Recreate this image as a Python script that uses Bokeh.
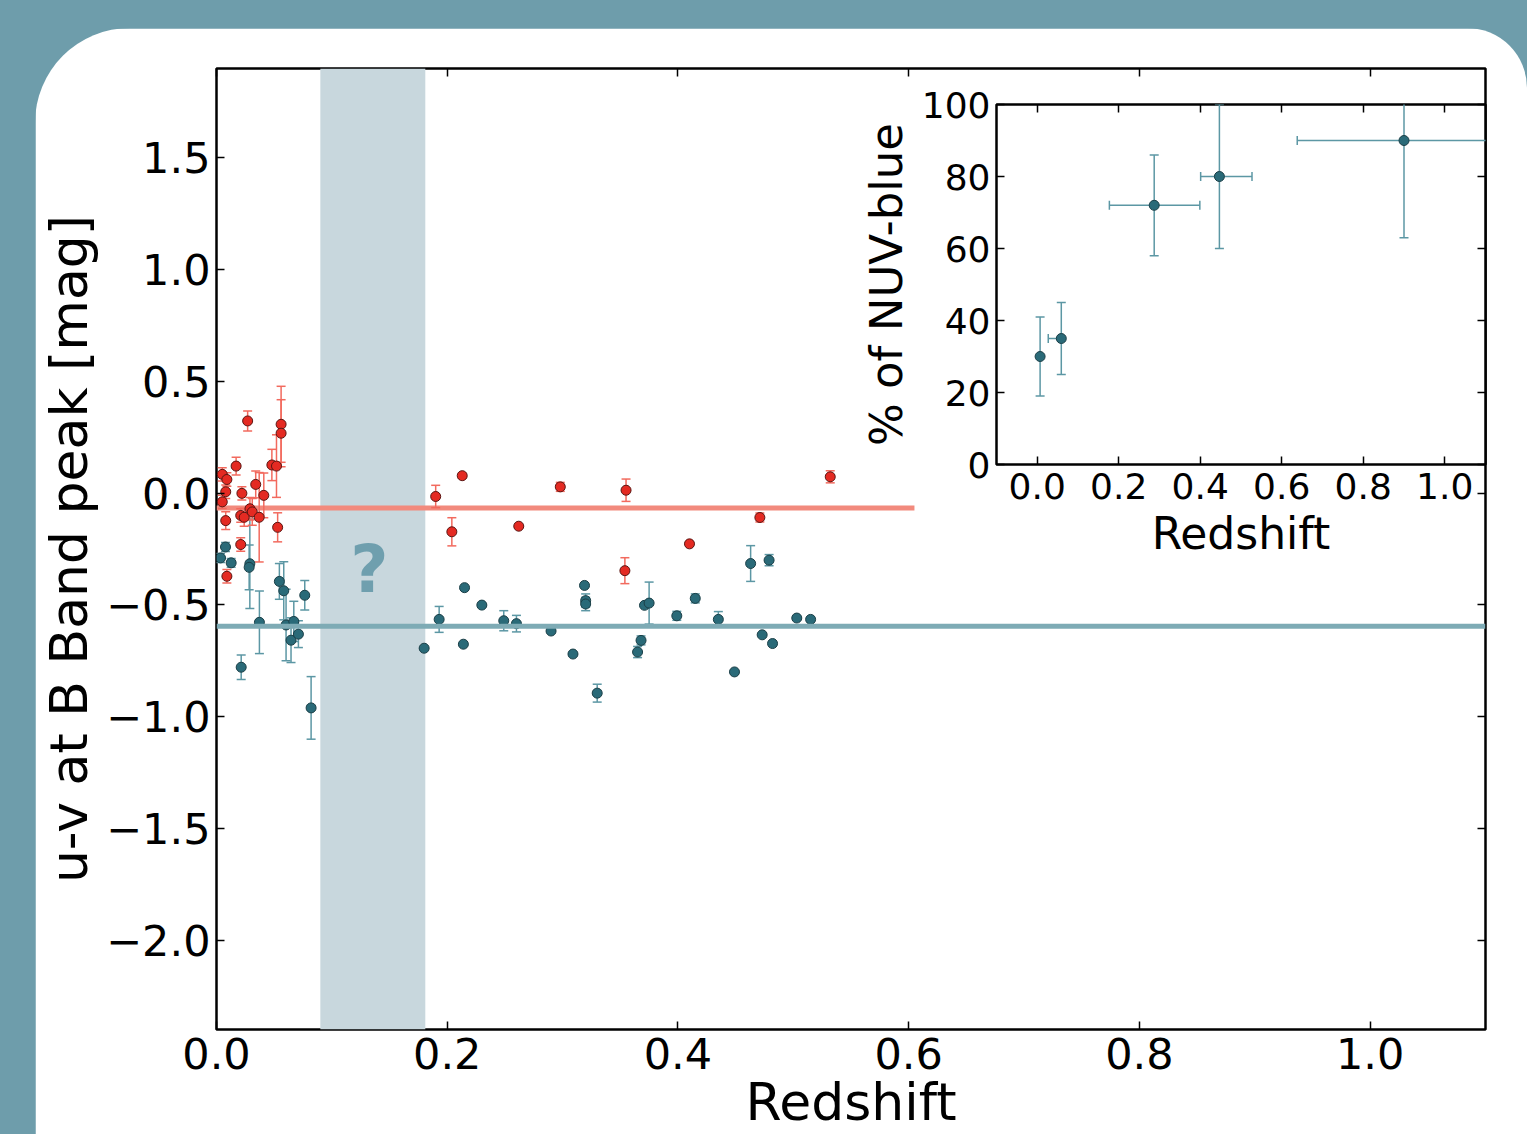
import numpy as np
from bokeh.plotting import figure
from bokeh.models import LinearAxis, FixedTicker, Range1d, Span, Label, BoxAnnotation
from bokeh.layouts import column
from bokeh.embed import file_html
from bokeh.resources import INLINE

# ---------------- data ----------------
# NUV-red supernovae: redshift, u-v at B peak, error
red_z = [0.005, 0.009, 0.017, 0.008, 0.022, 0.034, 0.005, 0.008, 0.021, 0.024, 0.029,
         0.031, 0.037, 0.041, 0.048, 0.052, 0.027, 0.056, 0.056, 0.053, 0.021, 0.009,
         0.190, 0.213, 0.204, 0.262, 0.298, 0.355, 0.354, 0.410, 0.471, 0.532]
red_uv = [0.084, 0.061, 0.121, 0.006, -0.001, 0.039, -0.039, -0.123, -0.100, -0.108, -0.070,
          -0.084, -0.108, -0.010, 0.126, 0.121, 0.323, 0.308, 0.268, -0.153, -0.230, -0.372,
          -0.015, 0.078, -0.173, -0.148, 0.028, 0.013, -0.347, -0.227, -0.109, 0.073]
red_err = [0.03, 0.03, 0.04, 0.03, 0.03, 0.06, 0.03, 0.04, 0.03, 0.04, 0.05,
           0.06, 0.20, 0.10, 0.07, 0.14, 0.045, 0.17, 0.15, 0.065, 0.03, 0.03,
           0.05, 0.01, 0.063, 0.0, 0.02, 0.05, 0.058, 0.0, 0.02, 0.027]

# NUV-blue supernovae
teal_z = [0.0035, 0.0078, 0.0127, 0.0289, 0.0283, 0.0545, 0.0583, 0.0765, 0.0372, 0.0603,
          0.067, 0.0646, 0.071, 0.0214, 0.082,
          0.180, 0.193, 0.215, 0.214, 0.230, 0.249, 0.260, 0.290, 0.309, 0.319, 0.320,
          0.320, 0.330, 0.365, 0.368, 0.371, 0.375,
          0.399, 0.415, 0.435, 0.449, 0.463, 0.473, 0.479, 0.482, 0.503, 0.515]
teal_uv = [-0.290, -0.241, -0.312, -0.316, -0.332, -0.395, -0.437, -0.457, -0.578, -0.590,
           -0.574, -0.658, -0.631, -0.779, -0.961,
           -0.694, -0.565, -0.423, -0.676, -0.501, -0.571, -0.584, -0.617, -0.720, -0.413,
           -0.481, -0.496, -0.895, -0.711, -0.659, -0.502, -0.492,
           -0.549, -0.471, -0.565, -0.800, -0.315, -0.634, -0.300, -0.673, -0.559, -0.565]
teal_err = [0.02, 0.02, 0.02, 0.20, 0.10, 0.08, 0.13, 0.066, 0.14, 0.16,
            0.09, 0.10, 0.06, 0.055, 0.14,
            0.0, 0.058, 0.0, 0.0, 0.0, 0.045, 0.037, 0.0, 0.0, 0.0, 0.03,
            0.03, 0.04, 0.025, 0.02, 0.0, 0.094,
            0.02, 0.02, 0.035, 0.0, 0.08, 0.0, 0.025, 0.0, 0.0, 0.0]

red_mean = -0.066
red_mean_extent = [0.0, 0.605]
teal_mean = -0.596
gap_z = [0.09, 0.181]
gap_mark = "?"
gap_mark_pos = [0.1325, -0.341]

x_ticks = [0.0, 0.2, 0.4, 0.6, 0.8, 1.0]
x_tick_labels = ["0.0", "0.2", "0.4", "0.6", "0.8", "1.0"]
y_ticks = [-2.0, -1.5, -1.0, -0.5, 0.0, 0.5, 1.0, 1.5]
y_tick_labels = ["\u22122.0", "\u22121.5", "\u22121.0", "\u22120.5", "0.0", "0.5", "1.0", "1.5"]

# inset: fraction of NUV-blue per redshift bin
ins_z = [0.007, 0.059, 0.287, 0.447, 0.900]
ins_pct = [30, 35, 72, 80, 90]
ins_zlo = [0.007, 0.027, 0.177, 0.401, 0.638]
ins_zhi = [0.007, 0.062, 0.399, 0.527, 1.160]
ins_pct_err = [11, 10, 14, 20, 27]
ins_x_ticks = [0.0, 0.2, 0.4, 0.6, 0.8, 1.0]
ins_x_tick_labels = ["0.0", "0.2", "0.4", "0.6", "0.8", "1.0"]
ins_y_ticks = [0, 20, 40, 60, 80, 100]
ins_y_tick_labels = ["0", "20", "40", "60", "80", "100"]

# ---------------- style ----------------
FONT = "DejaVu Sans"
BG = "#6e9dab"
RED = "#e42a22"
RED_ERR = "#f26a5e"
RED_LINE = "#f28a7d"
TEAL = "#2a6a78"
TEAL_ERR = "#5c97a4"
TEAL_LINE = "#7eabb5"
BAND = "#c8d7dd"


def style_axis(ax, ticks, labels, size, show_labels=True):
    ax.ticker = FixedTicker(ticks=ticks)
    ax.major_label_overrides = {t: l for t, l in zip(ticks, labels)}
    ax.axis_line_color = None
    ax.major_tick_in = 8
    ax.major_tick_out = 0
    ax.minor_tick_line_color = None
    ax.major_tick_line_color = "black"
    ax.major_tick_line_width = 1.5
    ax.major_label_text_font = FONT
    ax.major_label_text_color = "black"
    if show_labels:
        ax.major_label_text_font_size = size
    else:
        ax.major_label_text_font_size = "1px"
        ax.major_label_text_alpha = 0
        ax.major_label_standoff = 0


def errorbars(fig, x, y, err, color, cap=9):
    x = np.asarray(x, float)
    y = np.asarray(y, float)
    err = np.asarray(err, float)
    fig.segment(x, y - err, x, y + err, line_color=color, line_width=1.5)
    fig.scatter(np.concatenate([x, x]), np.concatenate([y - err, y + err]), marker="dash",
                size=cap, line_color=color, line_width=1.5)


# ---------------- main figure ----------------
p = figure(width=1492, height=1106, x_range=Range1d(0, 1.1), y_range=Range1d(-2.4, 1.9),
           output_backend="svg", toolbar_location=None,
           min_border_left=181, min_border_right=42, min_border_top=40, min_border_bottom=105,
           background_fill_color="white", border_fill_color="white",
           outline_line_color="black", outline_line_width=2.5)
p.frame_align = False
p.grid.visible = False
p.margin = (28, 0, 0, 35)
p.styles = {"border-top-left-radius": "95px", "border-top-right-radius": "60px",
            "overflow": "hidden"}

style_axis(p.xaxis[0], x_ticks, x_tick_labels, "43px")
style_axis(p.yaxis[0], y_ticks, y_tick_labels, "43px")
p.xaxis[0].major_label_standoff = 8
p.yaxis[0].major_label_standoff = 6
p.xaxis[0].axis_label = "Redshift"
p.yaxis[0].axis_label = "u-v at B Band peak [mag]"
for ax in (p.xaxis[0], p.yaxis[0]):
    ax.axis_label_text_font = FONT
    ax.axis_label_text_font_style = "normal"
    ax.axis_label_text_color = "black"
    ax.axis_label_text_font_size = "52px"
p.xaxis[0].axis_label_standoff = 0
p.yaxis[0].axis_label_standoff = 4

top_ax = LinearAxis()
style_axis(top_ax, x_ticks, x_tick_labels, "1px", show_labels=False)
p.add_layout(top_ax, "above")
right_ax = LinearAxis()
style_axis(right_ax, y_ticks, y_tick_labels, "1px", show_labels=False)
p.add_layout(right_ax, "right")

band = BoxAnnotation(left=gap_z[0], right=gap_z[1], fill_color=BAND, fill_alpha=1.0,
                     line_color=None, level="underlay")
p.add_layout(band)
p.add_layout(Label(x=gap_mark_pos[0], y=gap_mark_pos[1], text=gap_mark, text_align="center",
                   text_baseline="middle", text_font=FONT, text_font_style="bold",
                   text_font_size="66px", text_color="#6f9fae"))

p.line(red_mean_extent, [red_mean, red_mean], line_color=RED_LINE, line_width=5)
p.add_layout(Span(location=teal_mean, dimension="width", line_color=TEAL_LINE, line_width=5))

errorbars(p, teal_z, teal_uv, teal_err, TEAL_ERR)
errorbars(p, red_z, red_uv, red_err, RED_ERR)
p.scatter(teal_z, teal_uv, size=10, fill_color=TEAL, line_color="#1b3f47", line_width=1)
p.scatter(red_z, red_uv, size=10, fill_color=RED, line_color="#5a1512", line_width=1)

# ---------------- inset ----------------
ins = figure(width=633, height=490, x_range=Range1d(-0.1, 1.1), y_range=Range1d(0, 100),
             output_backend="svg", toolbar_location=None,
             min_border_left=138, min_border_right=4, min_border_top=20, min_border_bottom=110,
             background_fill_color="white", border_fill_alpha=0, border_fill_color=None,
             outline_line_color="black", outline_line_width=2.5)
ins.frame_align = False
ins.grid.visible = False
style_axis(ins.xaxis[0], ins_x_ticks, ins_x_tick_labels, "36px")
style_axis(ins.yaxis[0], ins_y_ticks, ins_y_tick_labels, "36px")
ins.xaxis[0].major_label_standoff = 8
ins.yaxis[0].major_label_standoff = 6
ins.xaxis[0].axis_label = "Redshift"
ins.yaxis[0].axis_label = "% of NUV-blue"
for ax in (ins.xaxis[0], ins.yaxis[0]):
    ax.axis_label_text_font = FONT
    ax.axis_label_text_font_style = "normal"
    ax.axis_label_text_color = "black"
ins.xaxis[0].axis_label_text_font_size = "44px"
ins.yaxis[0].axis_label_text_font_size = "45px"
ins.xaxis[0].axis_label_standoff = 6
ins.yaxis[0].axis_label_standoff = 6
ins_top = LinearAxis()
style_axis(ins_top, ins_x_ticks, ins_x_tick_labels, "1px", show_labels=False)
ins.add_layout(ins_top, "above")
ins_right = LinearAxis()
style_axis(ins_right, ins_y_ticks, ins_y_tick_labels, "1px", show_labels=False)
ins.add_layout(ins_right, "right")

iz = np.asarray(ins_z, float)
ip = np.asarray(ins_pct, float)
ie = np.asarray(ins_pct_err, float)
ilo = np.asarray(ins_zlo, float)
ihi = np.asarray(ins_zhi, float)
ins.segment(iz, ip - ie, iz, ip + ie, line_color=TEAL_ERR, line_width=1.5)
ins.scatter(np.concatenate([iz, iz]), np.concatenate([ip - ie, ip + ie]), marker="dash",
            size=9, line_color=TEAL_ERR, line_width=1.5)
ins.segment(ilo, ip, ihi, ip, line_color=TEAL_ERR, line_width=1.5)
ins.scatter(np.concatenate([ilo, ihi]), np.concatenate([ip, ip]), marker="dash", angle=np.pi / 2,
            size=9, line_color=TEAL_ERR, line_width=1.5)
ins.scatter(iz, ip, size=10, fill_color=TEAL, line_color="#1b3f47", line_width=1)

ins.styles = {"position": "absolute", "left": "856px", "top": "84px", "z-index": "2"}

layout = column(p, ins, styles={"background-color": BG})

open("out.html", "w").write(file_html(layout, INLINE))
